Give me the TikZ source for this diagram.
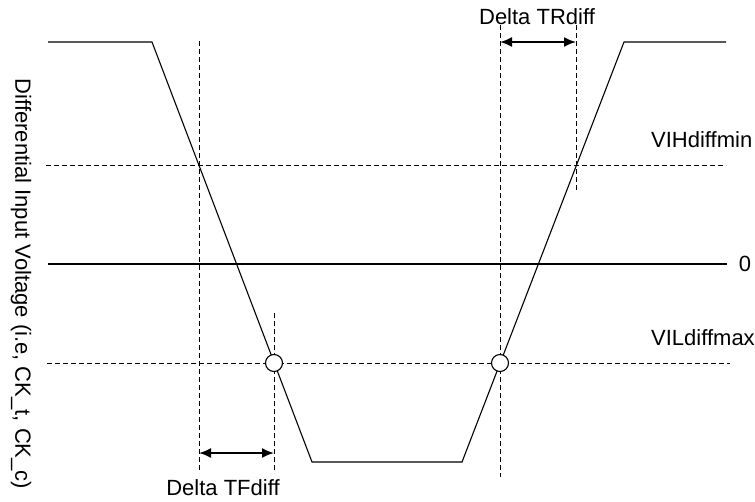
\documentclass[tikz,border=0pt]{standalone}
\usepackage{fontspec}
\setmainfont{Liberation Sans}
\usetikzlibrary{arrows.meta,positioning,calc}

\begin{document}
\begin{tikzpicture}[x=1pt, y=-1pt,
        wave/.style={line width=1.1pt, line join=miter},
        guide/.style={line width=0.9pt, dash pattern=on 5pt off 3pt},
        zeroline/.style={line width=2.2pt},
        span/.style={{Latex[length=12pt,width=10pt]}-{Latex[length=12pt,width=10pt]}, line width=1.8pt},
        cross/.style={circle, draw, line width=1.1pt, fill=white, minimum size=17pt, inner sep=0pt},
        lbl/.style={font=\fontsize{22}{26}\selectfont, inner sep=0pt}]

        \useasboundingbox (0,0) rectangle (755,501);

        % waveform corners
        \coordinate (hiL) at (48,42);
        \coordinate (fallTop) at (152,42);
        \coordinate (fallBot) at (312,462);
        \coordinate (riseBot) at (462,462);
        \coordinate (riseTop) at (624,42);
        \coordinate (hiR) at (726,42);

        % level lines
        \coordinate (vihL) at (46,165);   \coordinate (vihR) at (726,165);
        \coordinate (zeroL) at (48,264);  \coordinate (zeroR) at (727,264);
        \coordinate (vilL) at (47,363);   \coordinate (vilR) at (730,363);

        % timing lines
        \coordinate (tfaTop) at (199,41);  \coordinate (tfaBot) at (199,470);
        \coordinate (tfbTop) at (274,313); \coordinate (tfbBot) at (274,473);
        \coordinate (traTop) at (500,25);  \coordinate (traBot) at (500,477);
        \coordinate (trbTop) at (576,25);  \coordinate (trbBot) at (576,192);

        \draw[guide] (vihL) -- (vihR);
        \draw[guide] (vilL) -- (vilR);
        \draw[guide] (tfaTop) -- (tfaBot);
        \draw[guide] (tfbTop) -- (tfbBot);
        \draw[guide] (traTop) -- (traBot);
        \draw[guide] (trbTop) -- (trbBot);

        \draw[zeroline] (zeroL) -- (zeroR);

        \draw[wave] (hiL) -- (fallTop) -- (fallBot) -- (riseBot) -- (riseTop) -- (hiR);

        \node[cross] (fallX) at (274,363) {};
        \node[cross] (riseX) at (500,363) {};

        \coordinate (tfA) at (199,453); \coordinate (tfB) at (274,453);
        \coordinate (trA) at (500,42);  \coordinate (trB) at (576,42);
        \draw[span] (tfA) -- (tfB);
        \draw[span] (trA) -- (trB);

        \node[lbl] (tfLabel) at (223,488) {Delta TFdiff};
        \node[lbl] (trLabel) at (537,17) {Delta TRdiff};
        \node[lbl, anchor=west] (vihLabel) at (651,140) {VIHdiffmin};
        \node[lbl] (zeroLabel) at (745,264) {0};
        \node[lbl, anchor=west] (vilLabel) at (651,338) {VILdiffmax};
        \node[lbl, rotate=-90] (axisLabel) at (21,284) {Differential Input Voltage (i.e, CK\_t, CK\_c)};

    \end{tikzpicture}
\end{document}
